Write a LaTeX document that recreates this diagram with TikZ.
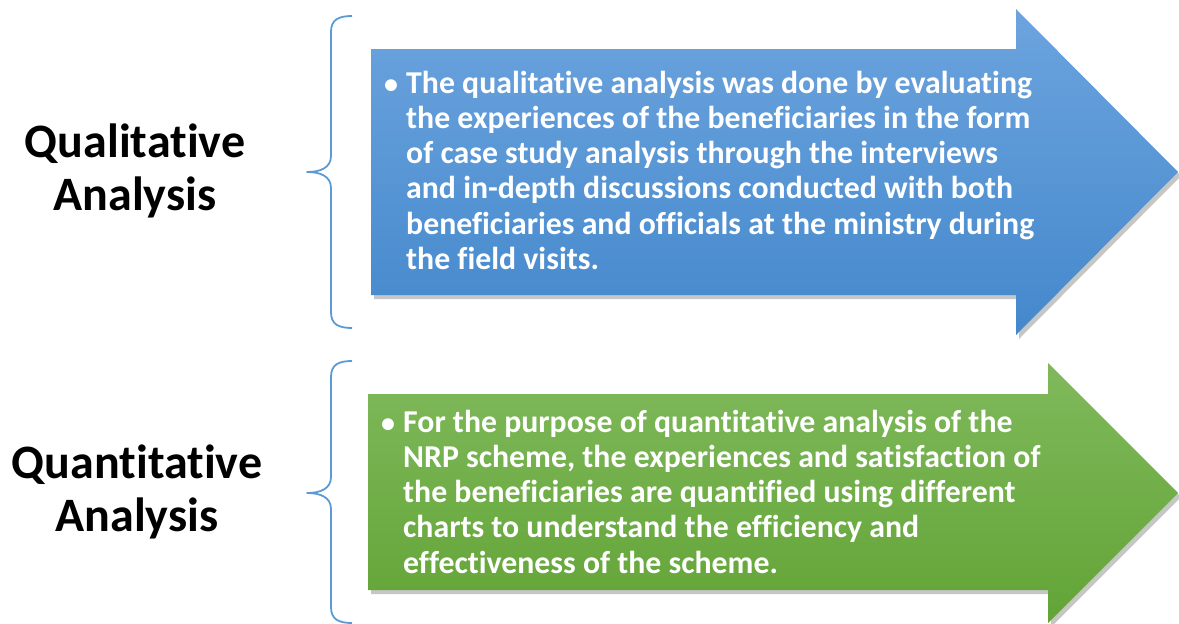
\documentclass[tikz,border=0pt]{standalone}
\usepackage{fontspec}
\setmainfont{Carlito}[Ligatures={NoCommon,NoRequired,NoContextual}]
\usetikzlibrary{shadows}
\definecolor{braceblue}{RGB}{91,155,213}
\definecolor{bluetop}{RGB}{108,164,222}
\definecolor{bluebot}{RGB}{68,136,204}
\definecolor{greentop}{RGB}{128,185,92}
\definecolor{greenbot}{RGB}{98,164,54}
\newcommand{\bodyfont}{\fontsize{31.8}{35.3}\selectfont\bfseries}
\tikzset{
  brace/.style={draw=braceblue, line width=1.8pt, line join=round},
  arrowshape/.style={drop shadow={shadow xshift=3pt, shadow yshift=-4pt, opacity=0.45}},
  bodytext/.style={text=white, font=\bodyfont, inner sep=0pt, anchor=base west},
  bullettext/.style={text=white, font=\fontsize{28}{30}\selectfont\bfseries, inner sep=0pt, anchor=base west},
  label/.style={text=black, font=\fontsize{48}{53}\selectfont\bfseries, align=center, inner sep=0pt}
}
\begin{document}
\begin{tikzpicture}[x=1pt,y=-1pt]
\useasboundingbox (0,0) rectangle (1179,624);
% top arrow
\path[arrowshape, top color=bluetop, bottom color=bluebot]
  (371,49) -- (1016,49) -- (1016,9) -- (1178,172) -- (1016,335) -- (1016,295) -- (371,295) -- cycle;
% bottom arrow
\path[arrowshape, top color=greentop, bottom color=greenbot]
  (368,394) -- (1048,394) -- (1048,363) -- (1178,493) -- (1048,623) -- (1048,590) -- (368,590) -- cycle;
% braces
\draw[brace] (352,16) .. controls (338,16) and (331,20) .. (331,32) -- (331,156)
  .. controls (331,168) and (320,172) .. (307,172)
  .. controls (320,172) and (331,176) .. (331,188) -- (331,312)
  .. controls (331,324) and (338,328) .. (352,328);
\draw[brace] (352,361) .. controls (338,361) and (331,365) .. (331,377) -- (331,477)
  .. controls (331,489) and (320,493) .. (307,493)
  .. controls (320,493) and (331,497) .. (331,509) -- (331,607)
  .. controls (331,619) and (338,623) .. (352,623);
% labels
\node[label] (qual) at (135,171) {Qualitative\\Analysis};
\node[label] (quant) at (137,492) {Quantitative\\Analysis};
% texts
\node[bullettext] (b1) at (384,93) {•};
\node[bodytext] (t1) at (406,93) {\begin{tabular}[t]{@{}l@{}}The qualitative analysis was done by evaluating\\
the experiences of the beneficiaries in the form\\
of case study analysis through the interviews\\
and in-depth discussions conducted with both\\
beneficiaries and officials at the ministry during\\
the field visits.\end{tabular}};
\node[bullettext] (b2) at (381,432) {•};
\node[bodytext] (t2) at (403,432) {\begin{tabular}[t]{@{}l@{}}For the purpose of quantitative analysis of the\\
NRP scheme, the experiences and satisfaction of\\
the beneficiaries are quantified using different\\
charts to understand the efficiency and\\
effectiveness of the scheme.\end{tabular}};
\end{tikzpicture}
\end{document}
